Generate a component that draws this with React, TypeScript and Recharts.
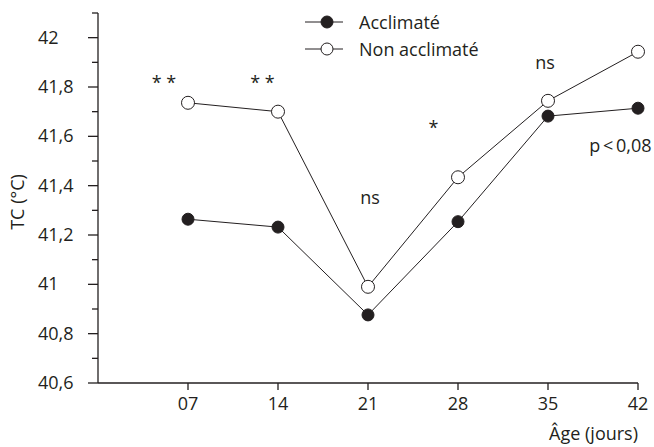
import { LineChart, Line, XAxis, YAxis, Legend, ReferenceDot } from "recharts";

const days = [7, 14, 21, 28, 35, 42];
const acclimate = [41.264, 41.232, 40.876, 41.254, 41.682, 41.714];
const nonAcclimate = [41.736, 41.7, 40.99, 41.434, 41.744, 41.943];

const yTicks = [40.6, 40.7, 40.8, 40.9, 41, 41.1, 41.2, 41.3, 41.4, 41.5, 41.6, 41.7, 41.8, 41.9, 42, 42.1];
const yLabels: Record<string, string> = {
  "40.6": "40,6",
  "40.8": "40,8",
  "41": "41",
  "41.2": "41,2",
  "41.4": "41,4",
  "41.6": "41,6",
  "41.8": "41,8",
  "42": "42",
};
const xLabels = ["07", "14", "21", "28", "35", "42"];

// significance marks, placed in data units
const notes = [
  { x: 5.13, y: 41.815, text: "* *", anchor: "middle" },
  { x: 12.79, y: 41.815, text: "* *", anchor: "middle" },
  { x: 21.16, y: 41.35, text: "ns", anchor: "middle" },
  { x: 26.09, y: 41.635, text: "*", anchor: "middle" },
  { x: 34.77, y: 41.896, text: "ns", anchor: "middle" },
  { x: 43.05, y: 41.56, text: "p < 0,08", anchor: "end" },
];

const data = days.map((d, i) => ({ day: d, acc: acclimate[i], non: nonAcclimate[i] }));

const INK = "#231f20";
const FONT = "'Open Sans', sans-serif";

const series = [
  { key: "acc", name: "Acclimaté", fill: INK },
  { key: "non", name: "Non acclimaté", fill: "#fff" },
];

function YTick(props: any) {
  const { x, y, payload } = props;
  const label = yLabels[String(payload.value)];
  return (
    <g>
      <line x1={x - (label ? 10 : 6)} y1={y} x2={x} y2={y} stroke={INK} strokeWidth={1.3} />
      {label && (
        <text x={x - 60} y={y} dy={6} textAnchor="start" fill={INK} fontSize={18} fontFamily={FONT}>
          {label}
        </text>
      )}
    </g>
  );
}

function XTick(props: any) {
  const { x, y, payload, index } = props;
  return (
    <g>
      <line x1={x} y1={y} x2={x} y2={y + 7} stroke={INK} strokeWidth={1.3} />
      <text x={x} y={y + 27} textAnchor="middle" fill={INK} fontSize={18} fontFamily={FONT}>
        {xLabels[index] ?? payload.value}
      </text>
    </g>
  );
}

function renderLegend() {
  return (
    <div style={{ fontFamily: FONT, color: INK }}>
      {series.map((s) => (
        <div key={s.key} style={{ display: "flex", alignItems: "center", height: 27.5 }}>
          <svg width={40} height={16}>
            <line x1={0} y1={8} x2={38} y2={8} stroke={INK} strokeWidth={1} />
            <circle cx={22} cy={8} r={6} fill={s.fill} stroke={INK} strokeWidth={1} />
          </svg>
          <span style={{ marginLeft: 14, fontSize: 18 }}>{s.name}</span>
        </div>
      ))}
    </div>
  );
}

export default function App() {
  return (
    <div style={{ position: "absolute", left: 0, top: 0, background: "#fff" }}>
      <LineChart width={654} height={447} data={data} margin={{ top: 13, right: 16, bottom: 34, left: 0 }}>
        <XAxis
          dataKey="day"
          type="number"
          domain={[0, 42]}
          ticks={days}
          axisLine={{ stroke: INK, strokeWidth: 1.3 }}
          tickLine={false}
          tickSize={0}
          tickMargin={0}
          height={30}
          tick={<XTick />}
          label={() => (
            <text x={638} y={440} textAnchor="end" fill={INK} fontSize={18} fontFamily={FONT}>
              Âge (jours)
            </text>
          )}
        />
        <YAxis
          type="number"
          domain={[40.6, 42.1]}
          ticks={yTicks}
          interval={0}
          width={98}
          axisLine={{ stroke: INK, strokeWidth: 1.3 }}
          tickLine={false}
          tickSize={0}
          tickMargin={0}
          tick={<YTick />}
          label={() => (
            <text
              x={0}
              y={0}
              transform="translate(24, 202) rotate(-90)"
              textAnchor="middle"
              fill={INK}
              fontSize={18}
              fontFamily={FONT}
            >
              TC (°C)
            </text>
          )}
        />
        <Legend
          layout="vertical"
          align="center"
          verticalAlign="middle"
          content={renderLegend}
          wrapperStyle={{ top: 8, left: 305, width: 250 }}
        />
        <Line
          dataKey="acc"
          name="Acclimaté"
          stroke={INK}
          strokeWidth={1}
          dot={{ r: 6, fill: INK, stroke: INK, strokeWidth: 1 }}
          isAnimationActive={false}
        />
        <Line
          dataKey="non"
          name="Non acclimaté"
          stroke={INK}
          strokeWidth={1}
          dot={{ r: 6.5, fill: "#fff", stroke: INK, strokeWidth: 1 }}
          isAnimationActive={false}
        />
        {notes.map((n, i) => (
          <ReferenceDot
            key={i}
            x={n.x}
            y={n.y}
            ifOverflow="visible"
            shape={(p: any) => (
              <text
                x={p.cx}
                y={p.cy}
                dy={6}
                textAnchor={n.anchor}
                fill={INK}
                fontSize={18}
                fontFamily={FONT}
                wordSpacing={n.anchor === "end" ? -2 : 0}
              >
                {n.text}
              </text>
            )}
          />
        ))}
      </LineChart>
    </div>
  );
}
